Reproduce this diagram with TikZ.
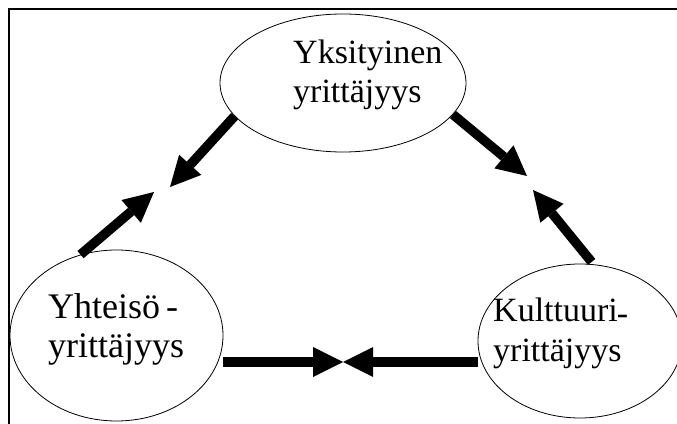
\documentclass[tikz,border=0pt]{standalone}
\usepackage{fontspec}
\setmainfont{Liberation Serif}
\usetikzlibrary{arrows.meta,shapes.geometric}

\tikzset{
  frameline/.style={line width=2pt, black},
  bubble/.style={ellipse, draw=black, line width=0.8pt, inner sep=0pt},
  caption/.style={anchor=base west, inner sep=0pt, font=\fontsize{34}{40}\selectfont},
  bigcaption/.style={caption, font=\fontsize{36}{42}\selectfont},
  flow/.style={line width=9.5pt, black,
    -{Triangle[length=30pt, width=30pt, line width=0pt]}},
}

\begin{document}
\begin{tikzpicture}[x=1pt, y=1pt]
  \useasboundingbox (0,0) rectangle (677,423);

  % open frame: left and top edges only
  \draw[frameline] (9,-3) -- (9,413.5) -- (680,413.5);

  % the three forms of entrepreneurship
  \node[bubble, minimum width=246pt, minimum height=138pt] (top)   at (343,340) {};
  \node[bubble, minimum width=213pt, minimum height=171pt] (left)  at (116.5,87.5) {};
  \node[bubble, minimum width=204pt, minimum height=154pt] (right) at (580,82) {};

  \node[caption] (top1)   at (293,359) {Yksityinen};
  \node[caption] (top2)   at (293,320) {yrittäjyys};
  \node[bigcaption] (left1)  at (48,104)  {Yhteisö\,-};
  \node[bigcaption] (left2)  at (48,66)   {yrittäjyys};
  \node[caption] (right1) at (493,101) {Kulttuuri\kern-1pt\raisebox{-3pt}{-}};
  \node[caption] (right2) at (493,62)  {yrittäjyys};

  % arrow tips meeting between the bubbles
  \coordinate (tipTL) at (170,236);
  \coordinate (tipLU) at (154,231);
  \coordinate (tipTR) at (527,247);
  \coordinate (tipRU) at (533,233);
  \coordinate (meet)  at (343,61);

  \draw[flow] (top.197) -- (tipTL);
  \draw[flow] (left.114) -- (tipLU);
  \draw[flow] (top.344) -- (tipTR);
  \draw[flow, shorten <=3pt] (right.80) -- (tipRU);
  \draw[flow] (meet -| left.east) -- (meet);
  \draw[flow] (meet -| right.west) -- (meet);
\end{tikzpicture}
\end{document}
